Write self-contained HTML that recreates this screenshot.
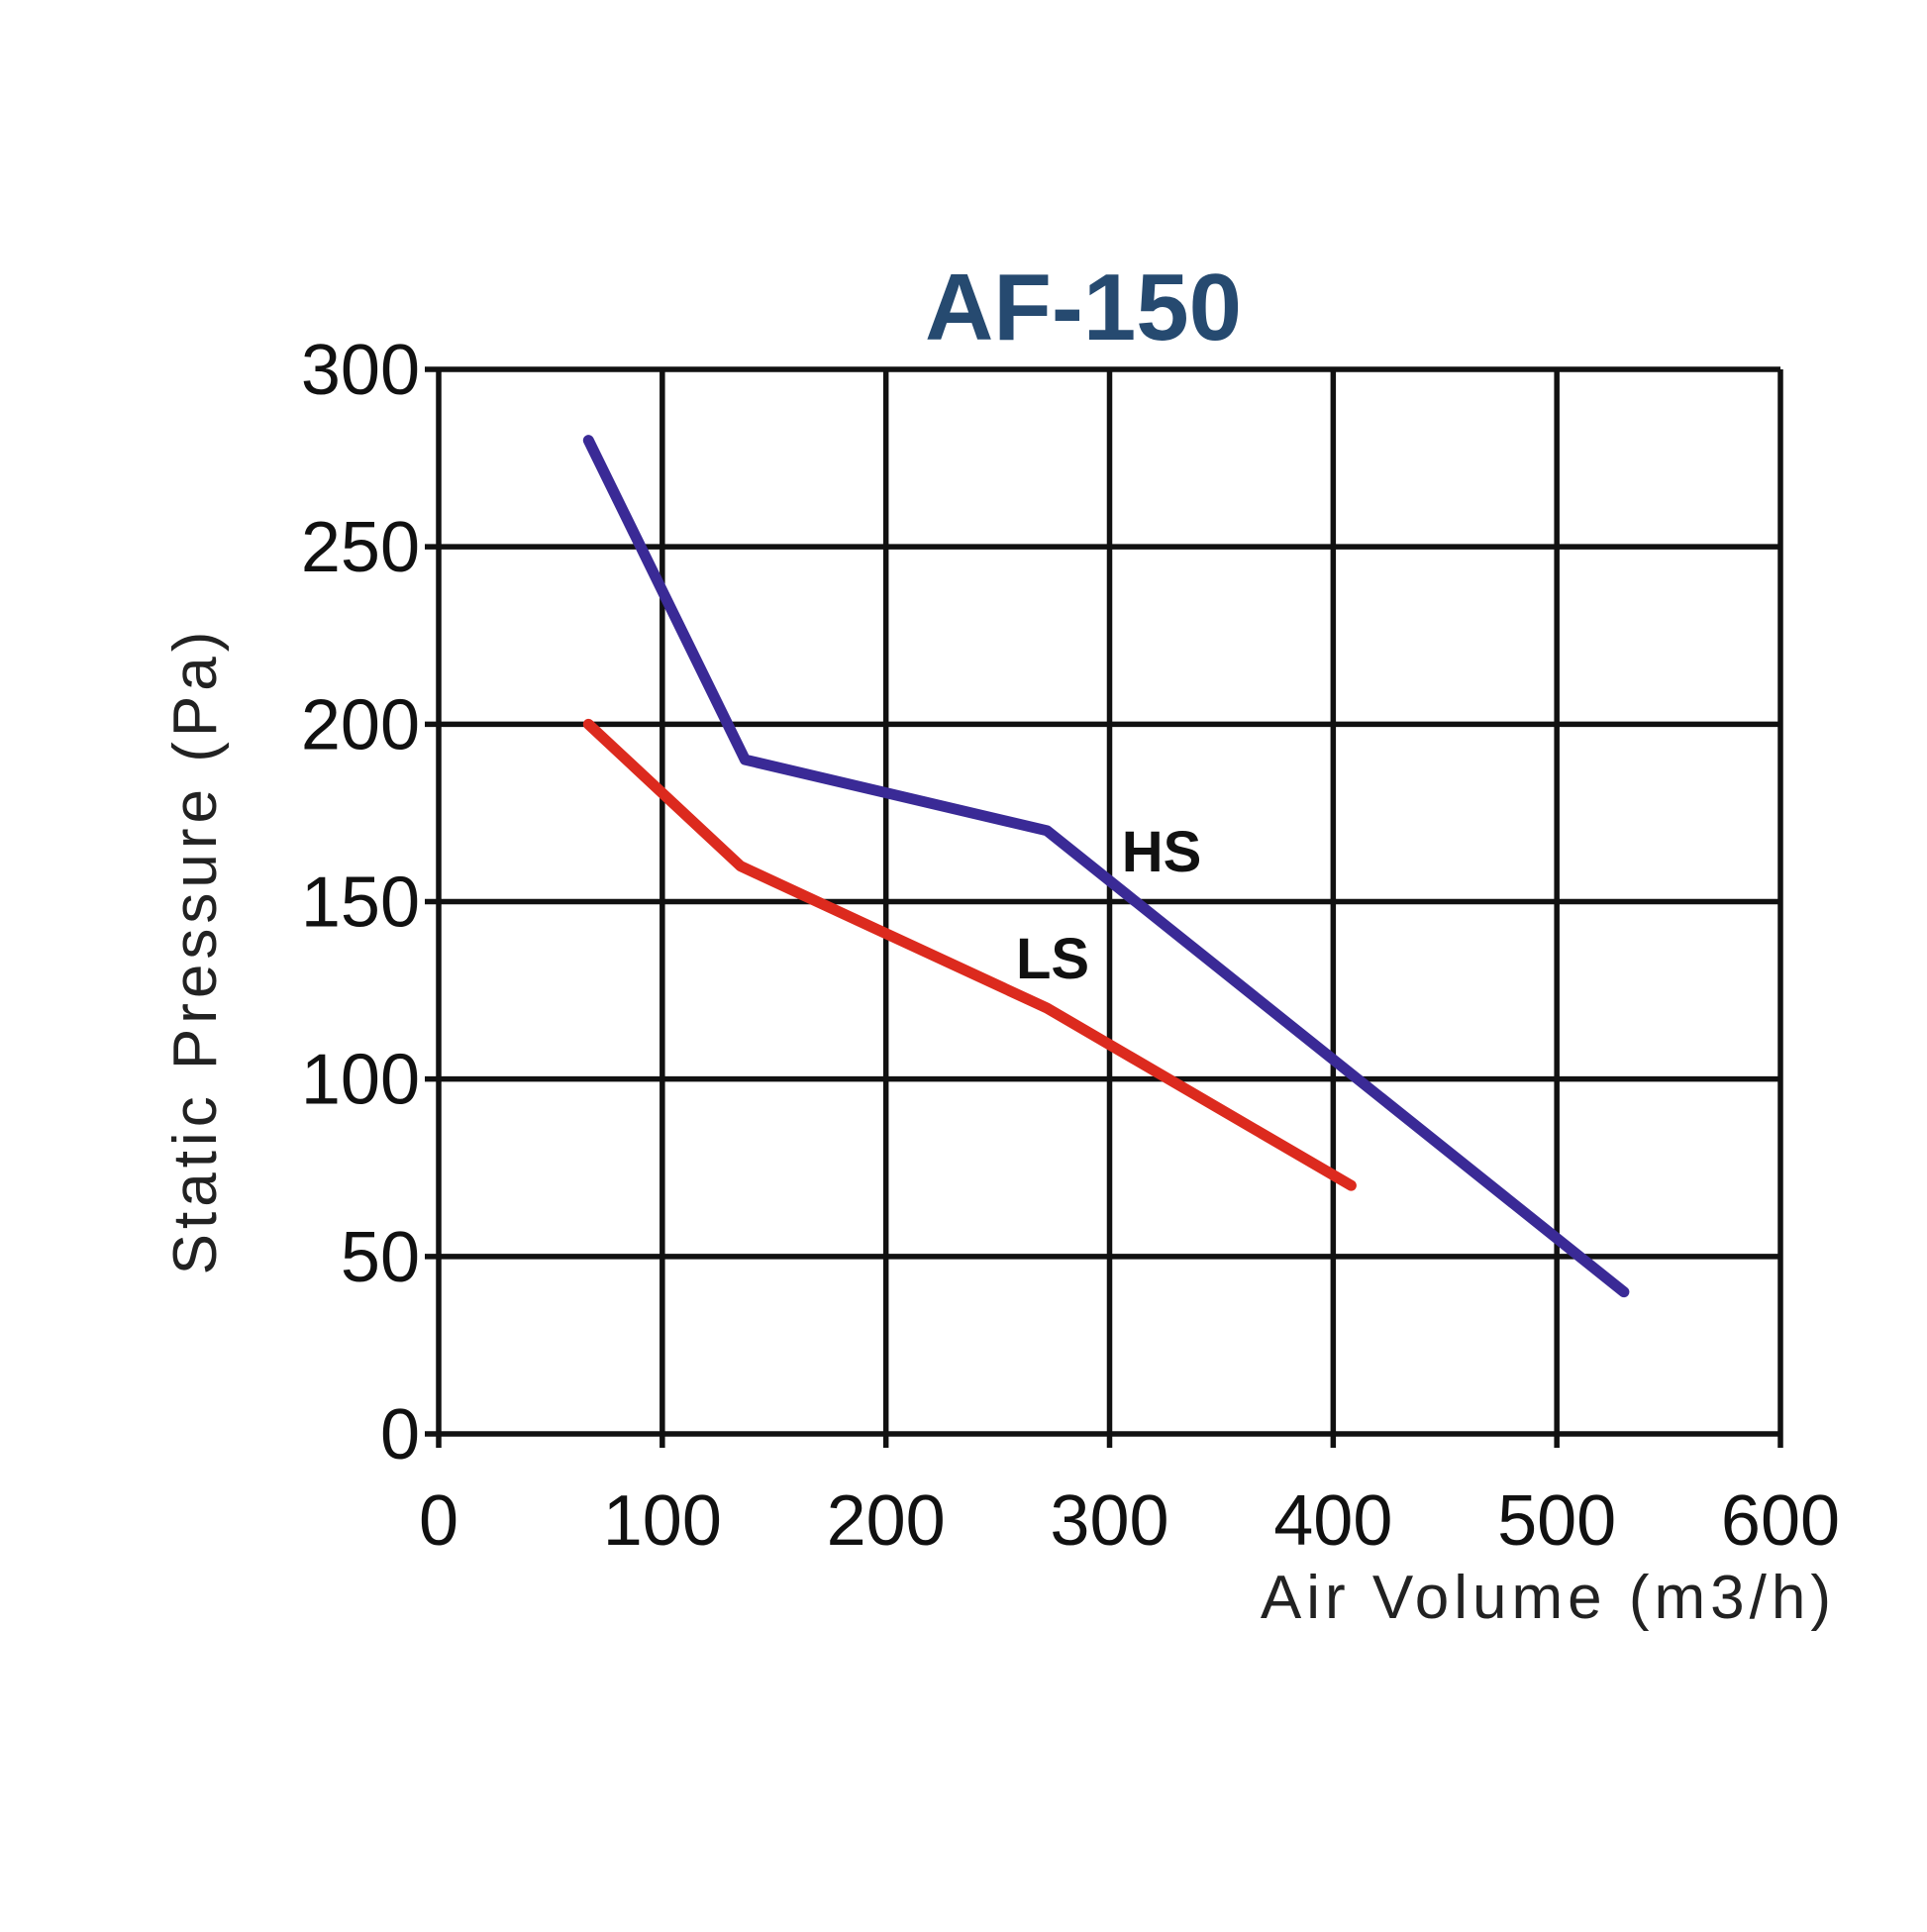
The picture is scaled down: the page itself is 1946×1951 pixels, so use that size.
<!DOCTYPE html>
<html><head><meta charset="utf-8"><style>
html,body{margin:0;padding:0;background:#fff;}
svg text{font-family:"Liberation Sans","DejaVu Sans",sans-serif;}
</style></head><body>
<svg id="chart" width="1946" height="1946" viewBox="0 0 1946 1946" xmlns="http://www.w3.org/2000/svg">
<rect width="1946" height="1946" fill="#fff"/>
<text x="1094" y="343" text-anchor="middle" font-size="96" font-weight="bold" fill="#264a70">AF-150</text>
<g id="grid"></g>
<g id="series"></g>
<text x="1173" y="880" text-anchor="middle" font-size="58" font-weight="bold" fill="#111">HS</text>
<text x="1063" y="988" text-anchor="middle" font-size="58" font-weight="bold" fill="#111">LS</text>
<text x="1854" y="1634" text-anchor="end" font-size="62" letter-spacing="5" fill="#222">Air Volume (m3/h)</text>
<text transform="translate(218,960) rotate(-90)" text-anchor="middle" font-size="62" letter-spacing="5" fill="#222">Static Pressure (Pa)</text>
</svg>
<script>
const xTicks=[0,100,200,300,400,500,600];
const yTicks=[0,50,100,150,200,250,300];
const hsX=[67,137,272,530];
const hsY=[280,190,170,40];
const lsX=[67,135,272,408];
const lsY=[200,160,120,70];
const NS="http://www.w3.org/2000/svg";
const X0=443,X1=1798,Y0=1448,Y1=373;
const sx=v=>X0+(v-0)/(600-0)*(X1-X0);
const sy=v=>Y0-(v-0)/(300-0)*(Y0-Y1);
const grid=document.getElementById('grid');
function mk(tag,attrs,parent){const e=document.createElementNS(NS,tag);for(const k in attrs)e.setAttribute(k,attrs[k]);parent.appendChild(e);return e;}
xTicks.forEach(t=>{
  const l=mk('line',{x1:sx(t),x2:sx(t),y1:Y1,y2:Y0+14,stroke:'#111','stroke-width':5.5},grid);
  
  
  const tx=mk('text',{x:sx(t),y:1560,'text-anchor':'middle','font-size':72,fill:'#111'},grid);
  tx.textContent=t;
  
  
});
yTicks.forEach(t=>{
  const l=mk('line',{x1:X0-14,x2:X1,y1:sy(t),y2:sy(t),stroke:'#111','stroke-width':5.5},grid);
  
  
  const tx=mk('text',{x:424,y:sy(t)+25,'text-anchor':'end','font-size':72,fill:'#111'},grid);
  tx.textContent=t;
  
  
});
const ser=document.getElementById('series');
function line(xs,ys,color,name){
  const p=xs.map((x,i)=>sx(x)+','+sy(ys[i])).join(' ');
  const e=mk('polyline',{points:p,fill:'none',stroke:color,'stroke-width':11,'stroke-linecap':'round','stroke-linejoin':'round'},ser);
  
  
}
line(lsX,lsY,'#dc2a1e','ls-line');
line(hsX,hsY,'#3a2a96','hs-line');
</script>
</body></html>
